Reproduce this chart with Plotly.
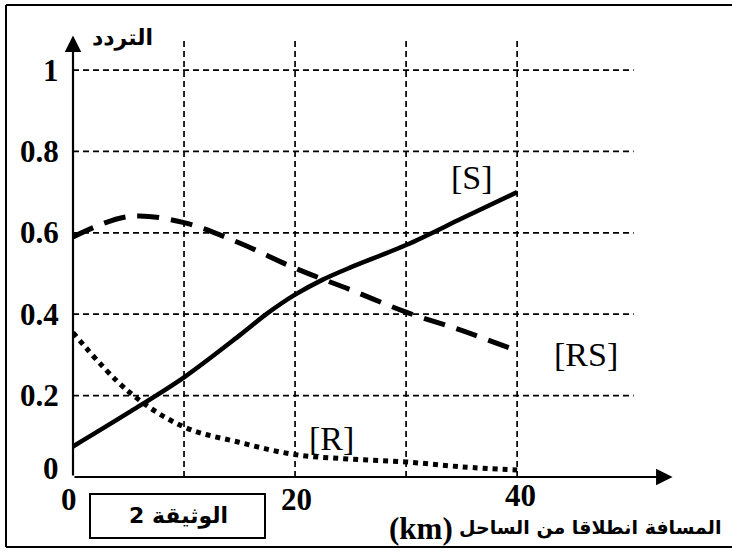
import plotly.graph_objects as go

# ---- data ----
distance_km = [0, 5, 10, 15, 17.5, 20, 22.5, 25, 30, 35, 40]
freq_S = [0.075, 0.158, 0.245, 0.348, 0.402, 0.448, 0.485, 0.515, 0.57, 0.635, 0.70]
distance_km_rs = [0, 5, 10, 15, 20, 25, 30, 35, 40]
freq_RS = [0.59, 0.64, 0.625, 0.575, 0.513, 0.46, 0.405, 0.36, 0.31]
freq_R = [0.355, 0.21, 0.123, 0.085, 0.055, 0.044, 0.037, 0.025, 0.017]

y_ticks = [0, 0.2, 0.4, 0.6, 0.8, 1]
y_tick_labels = ["0", "0.2", "0.4", "0.6", "0.8", "1"]
x_ticks = [0, 20, 40]
x_tick_labels = ["0", "20", "40"]
x_grid = [10, 20, 30, 40]
y_grid = [0.2, 0.4, 0.6, 0.8, 1.0]

SERIF = "Liberation Serif"
ARABIC = "DejaVu Sans"

# pixel helpers for paper placement (plot area: x 73..677, y 33..477)
def px(xp):
    return (xp - 73) / 604

def py(yp):
    return (477 - yp) / 444

fig = go.Figure()

fig.add_trace(go.Scatter(x=distance_km, y=freq_S, mode="lines",
                         line=dict(color="black", width=4.5, shape="spline", smoothing=0.9),
                         showlegend=False, hoverinfo="skip"))
fig.add_trace(go.Scatter(x=distance_km_rs, y=freq_RS, mode="lines",
                         line=dict(color="black", width=5, shape="spline", dash="22px,12px"),
                         showlegend=False, hoverinfo="skip"))
fig.add_trace(go.Scatter(x=distance_km_rs, y=freq_R, mode="lines",
                         line=dict(color="black", width=5, shape="spline", dash="5px,5px"),
                         showlegend=False, hoverinfo="skip"))

shapes = []
grid_line = dict(color="black", width=1.7, dash="6px,4px")
for yv in y_grid:
    shapes.append(dict(type="line", xref="x", yref="y", x0=0, x1=50.5, y0=yv, y1=yv,
                       line=grid_line, layer="below"))
for xv in x_grid:
    shapes.append(dict(type="line", xref="x", yref="y", x0=xv, x1=xv, y0=0, y1=1.08,
                       line=grid_line, layer="below"))

# caption box
shapes.append(dict(type="rect", xref="paper", yref="paper",
                   x0=px(90), x1=px(265), y0=py(538), y1=py(494),
                   line=dict(color="black", width=2), fillcolor="white"))
# outer frame (top, left, bottom)
frame = dict(color="black", width=2)
shapes.append(dict(type="line", xref="paper", yref="paper", x0=px(6), x1=px(740), y0=py(5), y1=py(5), line=frame))
shapes.append(dict(type="line", xref="paper", yref="paper", x0=px(6), x1=px(6), y0=py(547), y1=py(5), line=frame))
shapes.append(dict(type="line", xref="paper", yref="paper", x0=px(6), x1=px(740), y0=py(547), y1=py(547), line=frame))

annotations = []
# axes with arrows
annotations.append(dict(x=54.0, y=0, ax=0, ay=0, xref="x", yref="y", axref="x", ayref="y",
                        showarrow=True, arrowhead=2, arrowsize=1.5, arrowwidth=2.2,
                        arrowcolor="black", text=""))
annotations.append(dict(x=0, y=1.085, ax=0, ay=0, xref="x", yref="y", axref="x", ayref="y",
                        showarrow=True, arrowhead=2, arrowsize=1.5, arrowwidth=2.2,
                        arrowcolor="black", text=""))

# y tick labels
for v, t in zip(y_ticks, y_tick_labels):
    yy = v if v > 0 else 0.02
    annotations.append(dict(x=-0.02, y=yy, xref="paper", yref="y", text="<b>%s</b>" % t,
                            showarrow=False, xanchor="right", yanchor="middle",
                            font=dict(family=SERIF, size=31, color="black")))
# x tick labels (paper coords so the 0 label left of the axis is kept)
x_tick_px = {0: 69, 20: 296, 40: 520}
x_tick_py = {0: 499, 20: 499, 40: 496}
for v, t in zip(x_ticks, x_tick_labels):
    annotations.append(dict(x=px(x_tick_px[v]), y=py(x_tick_py[v]), xref="paper", yref="paper",
                            text="<b>%s</b>" % t, showarrow=False,
                            xanchor="center", yanchor="middle",
                            font=dict(family=SERIF, size=31, color="black")))

# series labels
annotations.append(dict(x=35.9, y=0.735, xref="x", yref="y", text="[S]", showarrow=False,
                        font=dict(family=SERIF, size=34, color="black")))
annotations.append(dict(x=46.2, y=0.30, xref="x", yref="y", text="[RS]", showarrow=False,
                        font=dict(family=SERIF, size=34, color="black")))
annotations.append(dict(x=23.3, y=0.095, xref="x", yref="y", text="[R]", showarrow=False,
                        font=dict(family=SERIF, size=34, color="black")))

# axis titles
annotations.append(dict(x=px(122), y=py(38), xref="paper", yref="paper",
                        text="<b>التردد</b>", showarrow=False, xanchor="center", yanchor="middle",
                        font=dict(family=ARABIC, size=22, color="black")))
annotations.append(dict(x=px(723), y=py(527), xref="paper", yref="paper",
                        text="<b>المسافة انطلاقا من الساحل</b>", showarrow=False,
                        xanchor="right", yanchor="middle",
                        font=dict(family=ARABIC, size=19, color="black")))
annotations.append(dict(x=px(455), y=py(528), xref="paper", yref="paper",
                        text="<b>(km)</b>", showarrow=False,
                        xanchor="right", yanchor="middle",
                        font=dict(family=SERIF, size=31, color="black")))
annotations.append(dict(x=px(178), y=py(516), xref="paper", yref="paper",
                        text="<b>الوثيقة 2</b>", showarrow=False, xanchor="center", yanchor="middle",
                        font=dict(family=ARABIC, size=22, color="black")))

fig.update_layout(
    width=732, height=551,
    margin=dict(l=73, r=55, t=33, b=74),
    paper_bgcolor="white", plot_bgcolor="white",
    xaxis=dict(range=[0, 54.4], showgrid=False, zeroline=False, showticklabels=False,
               showline=False, ticks="", fixedrange=True),
    yaxis=dict(range=[0, 1.091], showgrid=False, zeroline=False, showticklabels=False,
               showline=False, ticks="", fixedrange=True),
    shapes=shapes, annotations=annotations,
)

fig.write_html("out.html", config={"displayModeBar": False},
               post_script="document.body.style.margin='0';document.body.style.overflow='hidden';")
